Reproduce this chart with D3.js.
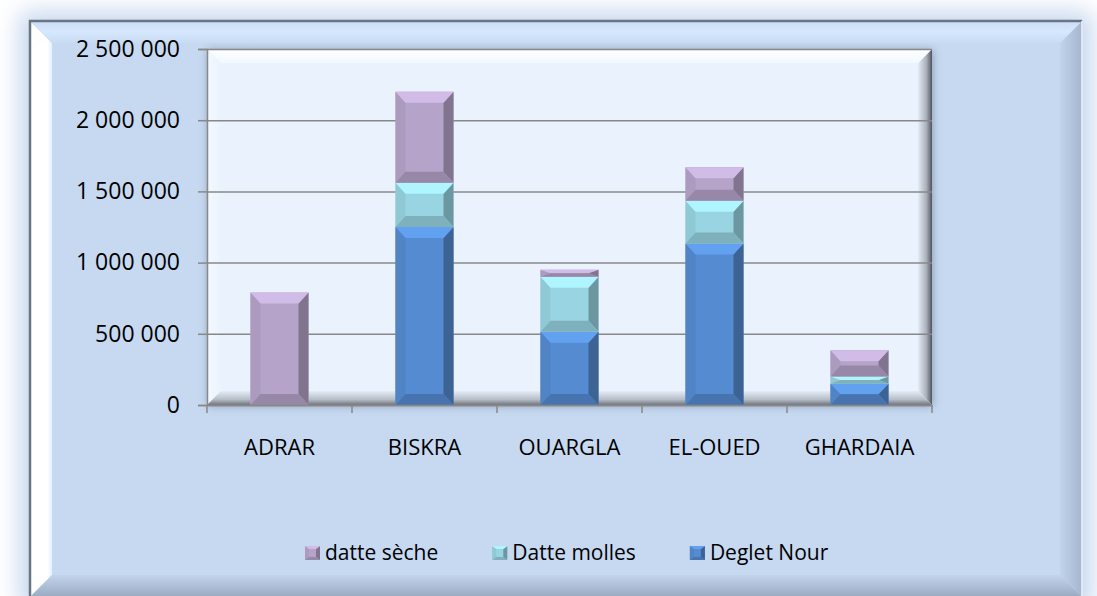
<!DOCTYPE html>
<html>
<head>
<meta charset="utf-8">
<script src="https://cdn.jsdelivr.net/npm/d3@7"></script>
<style>
  body { margin: 0; background: #ffffff; }
  text { font-family: "Open Sans", "Liberation Sans", sans-serif; fill: #000; }
</style>
</head>
<body>
<div id="chart"></div>
<script>
// values
const categories = ["ADRAR", "BISKRA", "OUARGLA", "EL-OUED", "GHARDAIA"];
const degletNour = [0, 1250000, 515000, 1135000, 150000];
const datteMolles = [0, 310000, 385000, 300000, 50000];
const datteSeche = [790000, 640000, 50000, 235000, 185000];
const yTicks = [0, 500000, 1000000, 1500000, 2000000, 2500000];
const seriesNames = {deglet: "Deglet Nour", molles: "Datte molles", seche: "datte sèche"};

const colors = {deglet: "#558bd0", molles: "#98d4e2", seche: "#b5a3c9"};

const width = 1097, height = 596;
const plot = {left: 207, right: 932, top: 49, bottom: 405};

const svg = d3.select("#chart").append("svg")
    .attr("width", width)
    .attr("height", height);

const defs = svg.append("defs");
defs.append("filter").attr("id", "glow").attr("x", "-10%").attr("y", "-10%").attr("width", "120%").attr("height", "120%")
    .append("feGaussianBlur").attr("stdDeviation", 12);
const sh = defs.append("filter").attr("id", "shadow").attr("x", "-10%").attr("y", "-10%").attr("width", "120%").attr("height", "120%");
sh.append("feGaussianBlur").attr("stdDeviation", 4);

function grad(id, x2, y2, stops) {
    const g = defs.append("linearGradient").attr("id", id)
        .attr("x1", 0).attr("y1", 0).attr("x2", x2).attr("y2", y2);
    stops.forEach(s => g.append("stop").attr("offset", s[0]).attr("stop-color", s[1]));
}
// frame bevel gradients
grad("fTop", 0, 1, [[0, "#c9dcf4"], [0.5, "#d6e8fe"], [1, "#c8dbf3"]]);
grad("fLeft", 1, 0, [[0, "#ffffff"], [0.8, "#ffffff"], [1, "#e4f0ff"]]);
grad("fRight", 1, 0, [[0, "#c2d4ec"], [1, "#a3b4cc"]]);
grad("fBottom", 0, 1, [[0, "#c2d4ec"], [1, "#97a8bf"]]);
// plot bevel gradients
grad("pTop", 0, 1, [[0, "#ffffff"], [1, "#f2f8ff"]]);
grad("pLeft", 1, 0, [[0, "#f4f9ff"], [1, "#eaf3fd"]]);
grad("pRight", 1, 0, [[0, "#e4ecf6"], [0.6, "#a9b0ba"], [1, "#4e5560"]]);
grad("pBottom", 0, 1, [[0, "#e4ecf6"], [0.6, "#b7bec8"], [1, "#6d747e"]]);

// soft glow behind the frame
svg.append("rect")
    .attr("x", 20).attr("y", 12).attr("width", 1072).attr("height", 600)
    .attr("fill", "#c4d6ee").attr("filter", "url(#glow)");

// beveled rectangle from trapezoids
function bevel(g, x, y, w, h, bx, by, fills) {
    bx = Math.min(bx, w / 2);
    by = Math.min(by, h / 2);
    g.append("rect").attr("x", x).attr("y", y).attr("width", w).attr("height", h).attr("fill", fills.c);
    const pts = {
        t: [[x, y], [x + w, y], [x + w - bx, y + by], [x + bx, y + by]],
        b: [[x, y + h], [x + w, y + h], [x + w - bx, y + h - by], [x + bx, y + h - by]],
        l: [[x, y], [x + bx, y + by], [x + bx, y + h - by], [x, y + h]],
        r: [[x + w, y], [x + w - bx, y + by], [x + w - bx, y + h - by], [x + w, y + h]]
    };
    ["l", "r", "t", "b"].forEach(k => {
        g.append("polygon").attr("points", pts[k].map(p => p.join(",")).join(" ")).attr("fill", fills[k]);
    });
}

// chart frame
const frame = svg.append("g");
bevel(frame, 29, 20, 1054, 578, 23, 23,
    {c: "#c6d9f1", t: "url(#fTop)", l: "url(#fLeft)", r: "url(#fRight)", b: "url(#fBottom)"});
frame.append("path")
    .attr("d", "M30,598 V21 H1082")
    .attr("fill", "none").attr("stroke", "#6a7482").attr("stroke-width", 2.5);
frame.append("path")
    .attr("d", "M1082,21 V598")
    .attr("fill", "none").attr("stroke", "#f4f8ff").attr("stroke-width", 1.5);

// plot area
const pw = plot.right - plot.left, ph = plot.bottom - plot.top;
svg.append("rect")
    .attr("x", plot.left + 1).attr("y", plot.top + 1).attr("width", pw).attr("height", ph)
    .attr("fill", "#5d6b80").attr("opacity", 0.55).attr("filter", "url(#shadow)");
const pg = svg.append("g");
bevel(pg, plot.left, plot.top, pw, ph, 14, 14,
    {c: "#eaf3fd", t: "url(#pTop)", l: "url(#pLeft)", r: "url(#pRight)", b: "url(#pBottom)"});

// scales
const x = d3.scaleBand().domain(categories)
    .range([plot.left, plot.right]).paddingInner(0.6).paddingOuter(0.3);
const y = d3.scaleLinear().domain([0, 2500000]).range([plot.bottom, plot.top]);

const fr = d3.formatLocale({decimal: ",", thousands: "\u00a0", grouping: [3], currency: ["", "€"]});
const fmt = fr.format(",d");

// gridlines
svg.append("g")
    .attr("transform", `translate(${plot.left},0)`)
    .call(d3.axisLeft(y).tickValues(yTicks).tickSize(-pw).tickFormat(""))
    .call(g => g.select(".domain").remove())
    .call(g => g.selectAll("line").attr("stroke", "#888888").attr("stroke-width", 1.5));

// stacked bars
const table = categories.map((c, i) => ({cat: c, deglet: degletNour[i], molles: datteMolles[i], seche: datteSeche[i]}));
const stack = d3.stack().keys(["deglet", "molles", "seche"])(table);

function shades(c) {
    const col = d3.color(c);
    return {
        c: c,
        t: col.brighter(0.4).formatHex(),
        l: col.darker(0.15).formatHex(),
        r: col.darker(0.95).formatHex(),
        b: col.darker(0.5).formatHex()
    };
}

const bars = svg.append("g");
stack.forEach(layer => {
    const f = shades(colors[layer.key]);
    layer.forEach(d => {
        const h = y(d[0]) - y(d[1]);
        if (h < 0.5) return;
        bevel(bars.append("g"), x(d.data.cat), y(d[1]), x.bandwidth(), h, 10, 11, f);
    });
});

// y axis
svg.append("g")
    .attr("transform", `translate(${plot.left},0)`)
    .call(d3.axisLeft(y).tickValues(yTicks).tickSize(9).tickPadding(18).tickFormat(fmt))
    .call(g => g.selectAll("line, .domain").attr("stroke", "#888888").attr("stroke-width", 1.5))
    .call(g => g.selectAll("text").style("font-size", "23px").style("font-family", "'Open Sans'"));

// x axis
const xAxis = svg.append("g")
    .attr("transform", `translate(0,${plot.bottom})`)
    .call(d3.axisBottom(x).tickSize(0).tickPadding(34))
    .call(g => g.select(".domain").attr("stroke", "#888888").attr("stroke-width", 1.5))
    .call(g => g.selectAll("text").style("font-size", "22px").style("font-family", "'Open Sans'"));
const half = (x.step() - x.bandwidth()) / 2;
const bounds = categories.map(c => x(c) - half).concat([x(categories[categories.length - 1]) + x.bandwidth() + half]);
xAxis.selectAll("line.sep").data(bounds).enter().append("line")
    .attr("class", "sep")
    .attr("x1", d => d).attr("x2", d => d)
    .attr("y1", 0).attr("y2", 8)
    .attr("stroke", "#888888").attr("stroke-width", 1.5);

// legend
const legendKeys = ["seche", "molles", "deglet"];
const legend = svg.append("g").attr("transform", "translate(305,546)");
let lx = 0;
legendKeys.forEach(k => {
    const item = legend.append("g").attr("transform", `translate(${lx},0)`);
    bevel(item, 0, 0, 15, 14, 4, 3, shades(colors[k]));
    const t = item.append("text")
        .attr("x", 20).attr("y", 14)
        .style("font-size", "21px")
        .text(seriesNames[k]);
    lx += 20 + t.node().getComputedTextLength() + 54;
});
</script>
</body>
</html>
